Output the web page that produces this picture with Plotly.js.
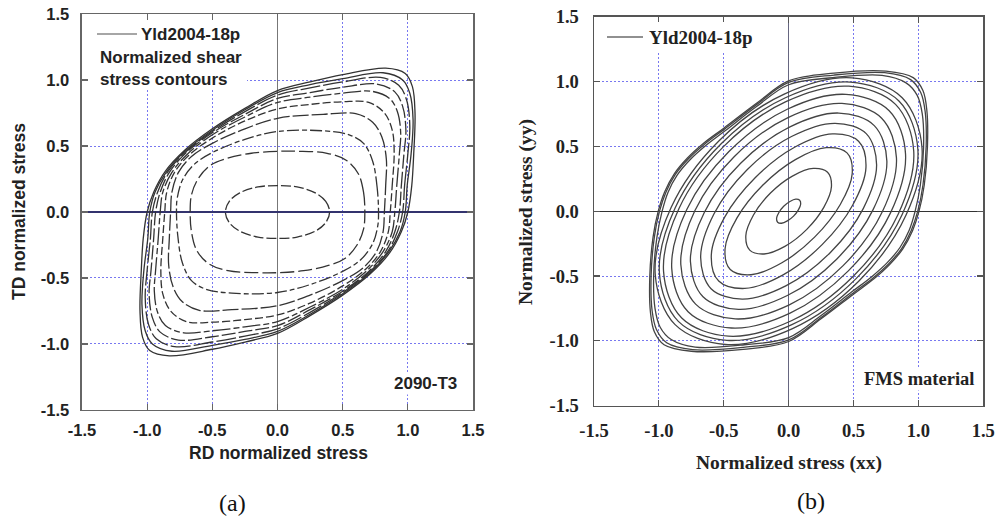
<!DOCTYPE html>
<html>
<head>
<meta charset="utf-8">
<script src="https://cdn.plot.ly/plotly-3.0.1.min.js"></script>
<style>html,body{margin:0;padding:0;background:#fff;}#chart{width:995px;height:517px;}</style>
</head>
<body>
<div id="chart"></div>
<script>
// ---------- tick labels ----------
const tickVals = [-1.5, -1.0, -0.5, 0, 0.5, 1.0, 1.5];
const tickText = ["-1.5", "-1.0", "-0.5", "0.0", "0.5", "1.0", "1.5"];

// ---------- (a) 2090-T3 : normalized shear stress contours (RD, TD) ----------
const L1_x = [0.40,0.37,0.29,0.15,0,-0.15,-0.29,-0.37,-0.40,-0.37,-0.29,-0.15,0,0.15,0.29,0.37,0.40];
const L1_y = [0,0.08,0.145,0.19,0.20,0.19,0.145,0.08,0,-0.08,-0.145,-0.19,-0.20,-0.19,-0.145,-0.08,0];
const L2_x = [0.67,0.66,0.62,0.53,0.38,0.15,0,-0.2,-0.39,-0.52,-0.61,-0.66,-0.67,-0.66,-0.62,-0.53,-0.38,-0.15,0,0.2,0.39,0.52,0.61,0.66,0.67];
const L2_y = [0,0.15,0.29,0.39,0.445,0.46,0.46,0.445,0.405,0.35,0.25,0.13,0,-0.15,-0.29,-0.39,-0.445,-0.46,-0.46,-0.445,-0.405,-0.35,-0.25,-0.13,0];
const L3_x = [0.775,0.765,0.73,0.66,0.55,0.35,0,-0.25,-0.5,-0.64,-0.73,-0.77,-0.775,-0.765,-0.73,-0.66,-0.55,-0.35,0,0.25,0.5,0.64,0.73,0.77,0.775];
const L3_y = [0,0.18,0.385,0.52,0.585,0.615,0.61,0.55,0.45,0.36,0.24,0.1,0,-0.18,-0.385,-0.52,-0.585,-0.615,-0.61,-0.55,-0.45,-0.36,-0.24,-0.1,0];
const L4_x = [0.82,0.83,0.835,0.80,0.73,0.6,0.35,0,-0.25,-0.5,-0.66,-0.76,-0.81,-0.82,-0.83,-0.835,-0.80,-0.73,-0.6,-0.35,0,0.25,0.5,0.66,0.76,0.81,0.82];
const L4_y = [0,0.2,0.4,0.57,0.68,0.745,0.74,0.71,0.63,0.52,0.42,0.3,0.15,0,-0.2,-0.4,-0.57,-0.68,-0.745,-0.74,-0.71,-0.63,-0.52,-0.42,-0.3,-0.15,0];
const L5_x = [0.865,0.88,0.895,0.88,0.82,0.7,0.5,0.25,0,-0.25,-0.5,-0.68,-0.79,-0.85,-0.865,-0.88,-0.895,-0.88,-0.82,-0.7,-0.5,-0.25,0,0.25,0.5,0.68,0.79,0.85,0.865];
const L5_y = [0,0.2,0.45,0.62,0.75,0.83,0.835,0.815,0.78,0.69,0.56,0.43,0.3,0.15,0,-0.2,-0.45,-0.62,-0.75,-0.83,-0.835,-0.815,-0.78,-0.69,-0.56,-0.43,-0.3,-0.15,0];
const L6_x = [0.90,0.915,0.935,0.945,0.92,0.86,0.72,0.5,0.25,0,-0.25,-0.5,-0.69,-0.81,-0.88,-0.90,-0.915,-0.935,-0.945,-0.92,-0.86,-0.72,-0.5,-0.25,0,0.25,0.5,0.69,0.81,0.88,0.90];
const L6_y = [0,0.2,0.44,0.6,0.76,0.86,0.915,0.9,0.87,0.83,0.72,0.585,0.44,0.3,0.15,0,-0.2,-0.44,-0.6,-0.76,-0.86,-0.915,-0.9,-0.87,-0.83,-0.72,-0.585,-0.44,-0.3,-0.15,0];
const L7_x = [0.935,0.95,0.97,0.985,0.96,0.9,0.76,0.5,0.25,0,-0.25,-0.5,-0.7,-0.83,-0.9,-0.935,-0.95,-0.97,-0.985,-0.96,-0.9,-0.76,-0.5,-0.25,0,0.25,0.5,0.7,0.83,0.9,0.935];
const L7_y = [0,0.2,0.44,0.62,0.8,0.91,0.97,0.945,0.905,0.86,0.74,0.6,0.45,0.3,0.15,0,-0.2,-0.44,-0.62,-0.8,-0.91,-0.97,-0.945,-0.905,-0.86,-0.74,-0.6,-0.45,-0.3,-0.15,0];
const L8_x = [0.96,0.975,1.0,1.015,0.99,0.93,0.79,0.5,0.25,0,-0.25,-0.5,-0.705,-0.845,-0.92,-0.96,-0.975,-1.0,-1.015,-0.99,-0.93,-0.79,-0.5,-0.25,0,0.25,0.5,0.705,0.845,0.92,0.96];
const L8_y = [0,0.2,0.44,0.65,0.85,0.96,1.02,0.985,0.94,0.885,0.76,0.61,0.455,0.3,0.15,0,-0.2,-0.44,-0.65,-0.85,-0.96,-1.02,-0.985,-0.94,-0.885,-0.76,-0.61,-0.455,-0.3,-0.15,0];
const L9_x = [0.98,0.995,1.025,1.04,1.015,0.96,0.81,0.5,0.25,0,-0.25,-0.5,-0.71,-0.855,-0.94,-0.98,-0.995,-1.025,-1.04,-1.015,-0.96,-0.81,-0.5,-0.25,0,0.25,0.5,0.71,0.855,0.94,0.98];
const L9_y = [0,0.2,0.44,0.7,0.9,1.0,1.055,1.01,0.965,0.905,0.775,0.62,0.46,0.3,0.15,0,-0.2,-0.44,-0.7,-0.9,-1.0,-1.055,-1.01,-0.965,-0.905,-0.775,-0.62,-0.46,-0.3,-0.15,0];
const L10_x = [1.0,1.03,1.045,1.055,1.035,0.98,0.83,0.5,0.25,0,-0.25,-0.5,-0.71,-0.86,-0.95,-1.0,-1.03,-1.045,-1.055,-1.035,-0.98,-0.83,-0.5,-0.25,0,0.25,0.5,0.71,0.86,0.95,1.0];
const L10_y = [0,0.2,0.44,0.75,0.95,1.05,1.09,1.04,0.985,0.92,0.785,0.63,0.47,0.31,0.15,0,-0.2,-0.44,-0.75,-0.95,-1.05,-1.09,-1.04,-0.985,-0.92,-0.785,-0.63,-0.47,-0.31,-0.15,0];

// ---------- (b) FMS material : contours (xx, yy) ----------
const R1_x = [0.085,0.055,0.010,-0.038,-0.075,-0.093,-0.085,-0.055,-0.010,0.038,0.075,0.093,0.085];
const R1_y = [0.085,0.093,0.075,0.038,-0.010,-0.055,-0.085,-0.093,-0.075,-0.038,0.010,0.055,0.085];
const R2_x = [0.30,0.19,0.029,-0.14,-0.271,-0.33,-0.30,-0.19,-0.029,0.14,0.271,0.33,0.30];
const R2_y = [0.30,0.33,0.271,0.14,-0.029,-0.19,-0.30,-0.33,-0.271,-0.14,0.029,0.19,0.30];
const R3_x = [0.45,0.29,0.052,-0.2,-0.398,-0.49,-0.45,-0.29,-0.052,0.2,0.398,0.49,0.45];
const R3_y = [0.45,0.49,0.398,0.2,-0.052,-0.29,-0.45,-0.49,-0.398,-0.2,0.052,0.29,0.45];
const R4_x = [0.539,0.338,0.046,-0.258,-0.493,-0.596,-0.539,-0.338,-0.046,0.258,0.493,0.596,0.539];
const R4_y = [0.539,0.596,0.493,0.258,-0.046,-0.338,-0.539,-0.596,-0.493,-0.258,0.046,0.338,0.539];
const R5_x = [0.598,0.358,0.022,-0.32,-0.576,-0.678,-0.598,-0.358,-0.022,0.32,0.576,0.678,0.598];
const R5_y = [0.598,0.678,0.576,0.32,-0.022,-0.358,-0.598,-0.678,-0.576,-0.32,0.022,0.358,0.598];
const R6_x = [0.66,0.387,0.01,-0.37,-0.65,-0.757,-0.66,-0.387,-0.01,0.37,0.65,0.757,0.66];
const R6_y = [0.66,0.757,0.65,0.37,-0.01,-0.387,-0.66,-0.757,-0.65,-0.37,0.01,0.387,0.66];
const R7_x = [0.717,0.411,-0.005,-0.42,-0.722,-0.831,-0.717,-0.411,0.005,0.42,0.722,0.831,0.717];
const R7_y = [0.717,0.831,0.722,0.42,0.005,-0.411,-0.717,-0.831,-0.722,-0.42,-0.005,0.411,0.717];
const R8_x = [0.775,0.441,-0.011,-0.46,-0.786,-0.901,-0.775,-0.441,0.011,0.46,0.786,0.901,0.775];
const R8_y = [0.775,0.901,0.786,0.46,0.011,-0.441,-0.775,-0.901,-0.786,-0.46,-0.011,0.441,0.775];
const R9_x = [0.824,0.464,-0.021,-0.5,-0.845,-0.964,-0.824,-0.464,0.021,0.5,0.845,0.964,0.824];
const R9_y = [0.824,0.964,0.845,0.5,0.021,-0.464,-0.824,-0.964,-0.845,-0.5,-0.021,0.464,0.824];
const R10_x = [0.85,0.476,-0.025,-0.52,-0.875,-0.996,-0.85,-0.476,0.025,0.52,0.875,0.996,0.85];
const R10_y = [0.85,0.996,0.875,0.52,0.025,-0.476,-0.85,-0.996,-0.875,-0.52,-0.025,0.476,0.85];
const R11_x = [0.875,0.488,-0.03,-0.54,-0.905,-1.028,-0.875,-0.488,0.03,0.54,0.905,1.028,0.875];
const R11_y = [0.875,1.028,0.905,0.54,0.03,-0.488,-0.875,-1.028,-0.905,-0.54,-0.03,0.488,0.875];
const R12_x = [0.975,1.015,1.04,1.03,0.99,0.905,0.72,0.34,0,-0.25,-0.487,-0.643,-0.76,-0.858,-0.93,-0.975,-1.015,-1.04,-1.03,-0.99,-0.905,-0.72,-0.34,0,0.25,0.487,0.643,0.76,0.858,0.93,0.975];
const R12_y = [0,0.2,0.49,0.75,0.895,0.99,1.048,1.03,0.975,0.805,0.622,0.503,0.397,0.28,0.145,0,-0.2,-0.49,-0.75,-0.895,-0.99,-1.048,-1.03,-0.975,-0.805,-0.622,-0.503,-0.397,-0.28,-0.145,0];
const R13_x = [0.995,1.035,1.06,1.052,1.018,0.94,0.74,0.35,0,-0.25,-0.495,-0.653,-0.772,-0.872,-0.945,-0.995,-1.035,-1.06,-1.052,-1.018,-0.94,-0.74,-0.35,0,0.25,0.495,0.653,0.772,0.872,0.945,0.995];
const R13_y = [0,0.2,0.5,0.77,0.915,1.015,1.068,1.05,0.993,0.82,0.633,0.513,0.405,0.286,0.148,0,-0.2,-0.5,-0.77,-0.915,-1.015,-1.068,-1.05,-0.993,-0.82,-0.633,-0.513,-0.405,-0.286,-0.148,0];
const R14_x = [1.005,1.045,1.07,1.065,1.035,0.96,0.75,0.35,0,-0.25,-0.5,-0.66,-0.78,-0.88,-0.955,-1.005,-1.045,-1.07,-1.065,-1.035,-0.96,-0.75,-0.35,0,0.25,0.5,0.66,0.78,0.88,0.955,1.005];
const R14_y = [0,0.2,0.5,0.78,0.93,1.03,1.08,1.065,1.005,0.83,0.64,0.52,0.41,0.29,0.15,0,-0.2,-0.5,-0.78,-0.93,-1.03,-1.08,-1.065,-1.005,-0.83,-0.64,-0.52,-0.41,-0.29,-0.15,0];

const leftSet = [[L1_x,L1_y],[L2_x,L2_y],[L3_x,L3_y],[L4_x,L4_y],[L5_x,L5_y],[L6_x,L6_y],[L7_x,L7_y],[L8_x,L8_y],[L9_x,L9_y],[L10_x,L10_y]];
const leftDash = ['10px,3px','14px,4px','12px,3px,5px,3px','16px,3px','8px,3px','18px,3px,6px,3px','14px,3px','20px,3px','solid','solid'];
const rightSet = [[R1_x,R1_y],[R2_x,R2_y],[R3_x,R3_y],[R4_x,R4_y],[R5_x,R5_y],[R6_x,R6_y],[R7_x,R7_y],[R8_x,R8_y],[R9_x,R9_y],[R10_x,R10_y],[R11_x,R11_y],[R12_x,R12_y],[R13_x,R13_y],[R14_x,R14_y]];

const traces = [];
leftSet.forEach((c, i) => traces.push({
  x: c[0], y: c[1], xaxis: 'x', yaxis: 'y', mode: 'lines', hoverinfo: 'skip',
  line: {shape: 'spline', smoothing: 1, color: '#333', width: 1.3, dash: leftDash[i]}
}));
rightSet.forEach((c) => traces.push({
  x: c[0], y: c[1], xaxis: 'x2', yaxis: 'y2', mode: 'lines', hoverinfo: 'skip',
  line: {shape: 'spline', smoothing: 1, color: '#444', width: 1.3}
}));

const SANS = 'Liberation Sans, Arial, sans-serif';
const SERIF = 'Liberation Serif, Times New Roman, serif';
const sansBold = {family: SANS, size: 16.5, color: '#222', weight: 'bold'};
const serifBold = {family: SERIF, size: 18.5, color: '#222', weight: 'bold'};

function axis(dom, anchor, font, zc, lc, standoff) {
  return {
    domain: dom, anchor: anchor, range: [-1.5, 1.5], fixedrange: true,
    tickmode: 'array', tickvals: tickVals, ticktext: tickText, tickfont: font,
    ticks: 'inside', ticklen: 6, tickwidth: 1.2, tickcolor: lc,
    showline: true, linecolor: lc, linewidth: 1.5, mirror: 'ticks',
    showgrid: true, gridcolor: '#7878f0', gridwidth: 1, griddash: '2px,2px',
    zeroline: true, zerolinecolor: zc, zerolinewidth: 1.2,
    ticklabelstandoff: standoff
  };
}

const layout = {
  width: 995, height: 517,
  margin: {l: 0, r: 0, t: 0, b: 0},
  paper_bgcolor: '#fff', plot_bgcolor: '#fff',
  showlegend: false, hovermode: false,
  xaxis: axis([0.0824, 0.4754], 'y', sansBold, '#777', '#666', 5),
  yaxis: axis([0.2070, 0.9729], 'x', sansBold, '#33336e', '#666', 8),
  xaxis2: axis([0.5970, 0.9882], 'y2', serifBold, '#666680', '#555', 8),
  yaxis2: axis([0.2153, 0.9677], 'x2', serifBold, '#333', '#555', 10),
  shapes: [
    {type: 'rect', xref: 'paper', yref: 'paper', x0: 89/995, x1: 247/995, y0: 1-89/517, y1: 1-21/517, fillcolor: '#fff', line: {width: 0}, layer: 'above'},
    {type: 'rect', xref: 'paper', yref: 'paper', x0: 598/995, x1: 762/995, y0: 1-52/517, y1: 1-22/517, fillcolor: '#fff', line: {width: 0}, layer: 'above'},
    {type: 'line', xref: 'paper', yref: 'paper', x0: 97/995, x1: 137/995, y0: 1-34/517, y1: 1-34/517, line: {color: '#888', width: 1.5}},
    {type: 'line', xref: 'paper', yref: 'paper', x0: 607/995, x1: 643/995, y0: 1-37/517, y1: 1-37/517, line: {color: '#222', width: 1.2}}
  ],
  annotations: [
    {text: 'RD normalized stress', xref: 'paper', yref: 'paper', x: 278/995, y: 1-453/517, xanchor: 'center', yanchor: 'middle', showarrow: false, font: {family: SANS, size: 17.5, color: '#222', weight: 'bold'}},
    {text: 'TD normalized stress', xref: 'paper', yref: 'paper', x: 19/995, y: 1-212/517, textangle: -90, xanchor: 'center', yanchor: 'middle', showarrow: false, font: {family: SANS, size: 17.5, color: '#222', weight: 'bold'}},
    {text: 'Yld2004-18p', xref: 'paper', yref: 'paper', x: 139/995, y: 1-34/517, xanchor: 'left', yanchor: 'middle', showarrow: false, font: {family: SANS, size: 17, color: '#222', weight: 'bold'}},
    {text: 'Normalized shear<br>stress contours', align: 'left', xref: 'paper', yref: 'paper', x: 98/995, y: 1-68.5/517, xanchor: 'left', yanchor: 'middle', showarrow: false, font: {family: SANS, size: 17, color: '#222', weight: 'bold'}},
    {text: '2090-T3', xref: 'paper', yref: 'paper', x: 459/995, y: 1-383/517, xanchor: 'right', yanchor: 'middle', showarrow: false, bgcolor: '#fff', font: {family: SANS, size: 17, color: '#222', weight: 'bold'}},
    {text: 'Normalized stress (xx)', xref: 'paper', yref: 'paper', x: 789/995, y: 1-463/517, xanchor: 'center', yanchor: 'middle', showarrow: false, font: {family: SERIF, size: 19.5, color: '#222', weight: 'bold'}},
    {text: 'Normalized stress (yy)', xref: 'paper', yref: 'paper', x: 526/995, y: 1-212/517, textangle: -90, xanchor: 'center', yanchor: 'middle', showarrow: false, font: {family: SERIF, size: 19.5, color: '#222', weight: 'bold'}},
    {text: 'Yld2004-18p', xref: 'paper', yref: 'paper', x: 647/995, y: 1-37/517, xanchor: 'left', yanchor: 'middle', showarrow: false, font: {family: SERIF, size: 19, color: '#222', weight: 'bold'}},
    {text: 'FMS material', xref: 'paper', yref: 'paper', x: 976/995, y: 1-379/517, xanchor: 'right', yanchor: 'middle', showarrow: false, bgcolor: '#fff', font: {family: SERIF, size: 18.5, color: '#222', weight: 'bold'}},
    {text: '(a)', xref: 'paper', yref: 'paper', x: 232/995, y: 1-503/517, xanchor: 'center', yanchor: 'middle', showarrow: false, font: {family: SERIF, size: 24, color: '#111'}},
    {text: '(b)', xref: 'paper', yref: 'paper', x: 811/995, y: 1-501/517, xanchor: 'center', yanchor: 'middle', showarrow: false, font: {family: SERIF, size: 24, color: '#111'}}
  ]
};

Plotly.newPlot('chart', traces, layout, {staticPlot: true, displayModeBar: false});
</script>
</body>
</html>
